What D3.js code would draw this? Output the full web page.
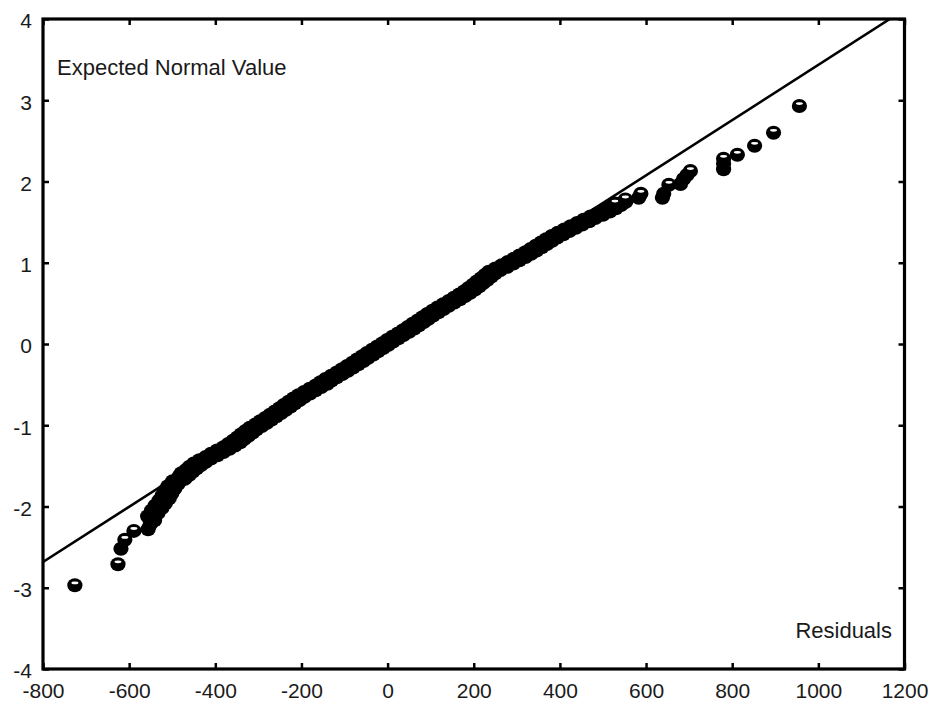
<!DOCTYPE html>
<html>
<head>
<meta charset="utf-8">
<script src="https://cdn.jsdelivr.net/npm/d3@7"></script>
<style>
  html, body { margin: 0; padding: 0; background: #fff; }
  svg { display: block; }
  text { font-family: "Liberation Sans", Arial, Helvetica, sans-serif; fill: #1a1a1a; }
</style>
</head>
<body>
<svg id="chart" width="930" height="703"></svg>
<script>
// ---- Data ----
const xTicks = [-800, -600, -400, -200, 0, 200, 400, 600, 800, 1000, 1200];
const yTicks = [-4, -3, -2, -1, 0, 1, 2, 3, 4];
const xDomain = [-800, 1200];
const yDomain = [-4, 4];
const xTitle = "Residuals";
const yTitle = "Expected Normal Value";

// reference (normal) line endpoints
const lineResiduals = [-800, 1166];
const lineExpected = [-2.683, 4];

// observed residuals and their expected normal values
const residuals = [
  -726, -626, -619, -610, -589, -556,
  -551, -541, -557, -533, -548, -524, -540, -516, -531, -507,
  -524, -501, -518, -494, -510, -486, -499, -471, -484, -460,
  -479, -452, -468, -443, -460, -433, -450, -422, -437, -410,
  -422, -395, -410, -381, -396, -367, -381, -354, -370, -342,
  -359, -333, -349, -323, -340, -313, -330, -304, -320, -292,
  -307, -280, -296, -269, -284, -258, -273, -247, -262, -236,
  -251, -225, -241, -215, -230, -204, -219, -193, -207, -180,
  -194, -167, -181, -154, -167, -140, -156, -130, -144, -118,
  -131, -105, -118, -92, -106, -80, -94, -68, -82, -56,
  -71, -45, -59, -33, -48, -22, -36, -10, -24, 2,
  -12, 13, -1, 25, 11, 37, 24, 50, 36, 62,
  47, 73, 58, 84, 70, 95, 81, 106, 92, 118,
  104, 130, 116, 142, 129, 155, 142, 168, 154, 180,
  166, 192, 178, 203, 188, 213, 198, 222, 207, 232,
  217, 241, 226, 250, 235, 262, 250, 278, 265, 292,
  279, 306, 293, 320, 306, 333, 320, 346, 332, 358,
  344, 370, 356, 382, 368, 394, 381, 408, 395, 422,
  410, 437, 425, 452, 440, 468, 455, 482, 471, 500,
  488, 516, 503, 530, 516, 542, 528, 553,
  552, 583, 588, 638, 641, 653, 680, 687, 695, 703,
  780, 780, 780, 812, 852, 896, 956
];
const expected = [
  -2.97, -2.71, -2.52, -2.41, -2.30, -2.28,
  -2.22, -2.17, -2.12, -2.08, -2.05, -2.02, -1.99, -1.96, -1.93, -1.90,
  -1.87, -1.84, -1.81, -1.78, -1.75, -1.72, -1.69, -1.66, -1.63, -1.61,
  -1.59, -1.57, -1.55, -1.53, -1.51, -1.49, -1.47, -1.45, -1.43, -1.41,
  -1.39, -1.37, -1.35, -1.33, -1.31, -1.29, -1.27, -1.25, -1.23, -1.21,
  -1.19, -1.17, -1.15, -1.13, -1.11, -1.09, -1.07, -1.05, -1.03, -1.01,
  -0.99, -0.97, -0.95, -0.93, -0.91, -0.89, -0.87, -0.85, -0.83, -0.81,
  -0.79, -0.77, -0.75, -0.73, -0.71, -0.69, -0.67, -0.65, -0.63, -0.61,
  -0.59, -0.57, -0.55, -0.53, -0.51, -0.49, -0.47, -0.45, -0.43, -0.41,
  -0.39, -0.37, -0.35, -0.33, -0.31, -0.29, -0.27, -0.25, -0.23, -0.21,
  -0.19, -0.17, -0.15, -0.13, -0.11, -0.09, -0.07, -0.05, -0.03, -0.01,
  0.01, 0.03, 0.05, 0.07, 0.09, 0.11, 0.13, 0.15, 0.17, 0.19,
  0.21, 0.23, 0.25, 0.27, 0.29, 0.31, 0.33, 0.35, 0.37, 0.39,
  0.41, 0.43, 0.45, 0.47, 0.49, 0.51, 0.53, 0.55, 0.57, 0.59,
  0.61, 0.63, 0.65, 0.67, 0.69, 0.71, 0.73, 0.75, 0.77, 0.79,
  0.81, 0.83, 0.85, 0.87, 0.89, 0.91, 0.93, 0.95, 0.97, 0.99,
  1.01, 1.03, 1.05, 1.07, 1.09, 1.11, 1.13, 1.15, 1.17, 1.19,
  1.21, 1.23, 1.25, 1.27, 1.29, 1.31, 1.33, 1.35, 1.37, 1.39,
  1.41, 1.43, 1.45, 1.47, 1.49, 1.51, 1.53, 1.55, 1.57, 1.59,
  1.61, 1.63, 1.65, 1.67, 1.69, 1.71, 1.73, 1.75,
  1.78, 1.80, 1.85, 1.80, 1.85, 1.96, 1.97, 2.03, 2.08, 2.13,
  2.15, 2.22, 2.28, 2.33, 2.44, 2.60, 2.93
];

// ---- Layout ----
const mLeft = 43, mRight = 904.5, mTop = 19, mBottom = 669;
const svg = d3.select("#chart");

const x = d3.scaleLinear().domain(xDomain).range([mLeft, mRight]);
const y = d3.scaleLinear().domain(yDomain).range([mBottom, mTop]);

const tickLen = 6;
const fmt = d => String(d);   // plain hyphen-minus, as in the reference
function styleAxis(g, showText) {
  g.select(".domain").remove();
  g.selectAll(".tick line").attr("stroke", "#000").attr("stroke-width", 2.5);
  g.selectAll(".tick text").attr("font-size", 21).attr("fill", "#1a1a1a")
    .attr("font-family", '"Liberation Sans", Arial, sans-serif');
  if (!showText) g.selectAll(".tick text").remove();
}

// bottom axis
svg.append("g").attr("transform", `translate(0,${mBottom})`)
  .call(d3.axisBottom(x).tickValues(xTicks).tickFormat(fmt)
        .tickSizeInner(-tickLen).tickSizeOuter(0).tickPadding(14))
  .call(g => styleAxis(g, true));
// top axis (ticks only)
svg.append("g").attr("transform", `translate(0,${mTop})`)
  .call(d3.axisTop(x).tickValues(xTicks).tickSizeInner(-tickLen).tickSizeOuter(0))
  .call(g => styleAxis(g, false));
// left axis
svg.append("g").attr("transform", `translate(${mLeft},0)`)
  .call(d3.axisLeft(y).tickValues(yTicks).tickFormat(fmt)
        .tickSizeInner(-tickLen).tickSizeOuter(0).tickPadding(11))
  .call(g => { styleAxis(g, true); g.selectAll(".tick text").attr("dy", "0.42em"); });
// right axis (ticks only)
svg.append("g").attr("transform", `translate(${mRight},0)`)
  .call(d3.axisRight(y).tickValues(yTicks).tickSizeInner(-tickLen).tickSizeOuter(0))
  .call(g => styleAxis(g, false));

// clip
svg.append("clipPath").attr("id", "plotclip")
  .append("rect").attr("x", mLeft).attr("y", mTop)
  .attr("width", mRight - mLeft).attr("height", mBottom - mTop);

// reference line
const lineData = lineResiduals.map((r, i) => [r, lineExpected[i]]);
svg.append("path")
  .datum(lineData)
  .attr("clip-path", "url(#plotclip)")
  .attr("fill", "none").attr("stroke", "#000").attr("stroke-width", 2.6)
  .attr("d", d3.line().x(d => x(d[0])).y(d => y(d[1])));

// points: ball markers (black body + small white highlight).
// The highlight of a marker is hidden when a marker drawn after it overlaps it.
const RX = 7.6, RY = 7.0, HY = -2.4;
const pts = residuals.map((r, i) => ({ r, e: expected[i], px: x(r), py: y(expected[i]) }));
pts.forEach((p, i) => {
  p.lit = true;
  for (let j = i + 1; j < pts.length; j++) {
    const q = pts[j];
    const dx = q.px - p.px, dy = q.py - (p.py + HY);
    if (Math.hypot(dx, dy) < 9) { p.lit = false; break; }
  }
});
const marks = svg.append("g").attr("clip-path", "url(#plotclip)")
  .selectAll("g.pt").data(pts).join("g").attr("class", "pt")
  .attr("transform", d => `translate(${d.px},${d.py})`);
marks.append("ellipse").attr("rx", RX).attr("ry", RY).attr("fill", "#000");
marks.filter(d => d.lit).append("ellipse")
  .attr("cx", 0).attr("cy", HY).attr("rx", 3.5).attr("ry", 1.4).attr("fill", "#fff");

// frame
svg.append("rect").attr("x", mLeft).attr("y", mTop)
  .attr("width", mRight - mLeft).attr("height", mBottom - mTop)
  .attr("fill", "none").attr("stroke", "#000").attr("stroke-width", 3.2);

// titles inside the plot
svg.append("text").attr("x", 57).attr("y", 75).attr("font-size", 22)
  .text(yTitle);
svg.append("text").attr("x", 892).attr("y", 638).attr("font-size", 22)
  .attr("text-anchor", "end").text(xTitle);
</script>
</body>
</html>
